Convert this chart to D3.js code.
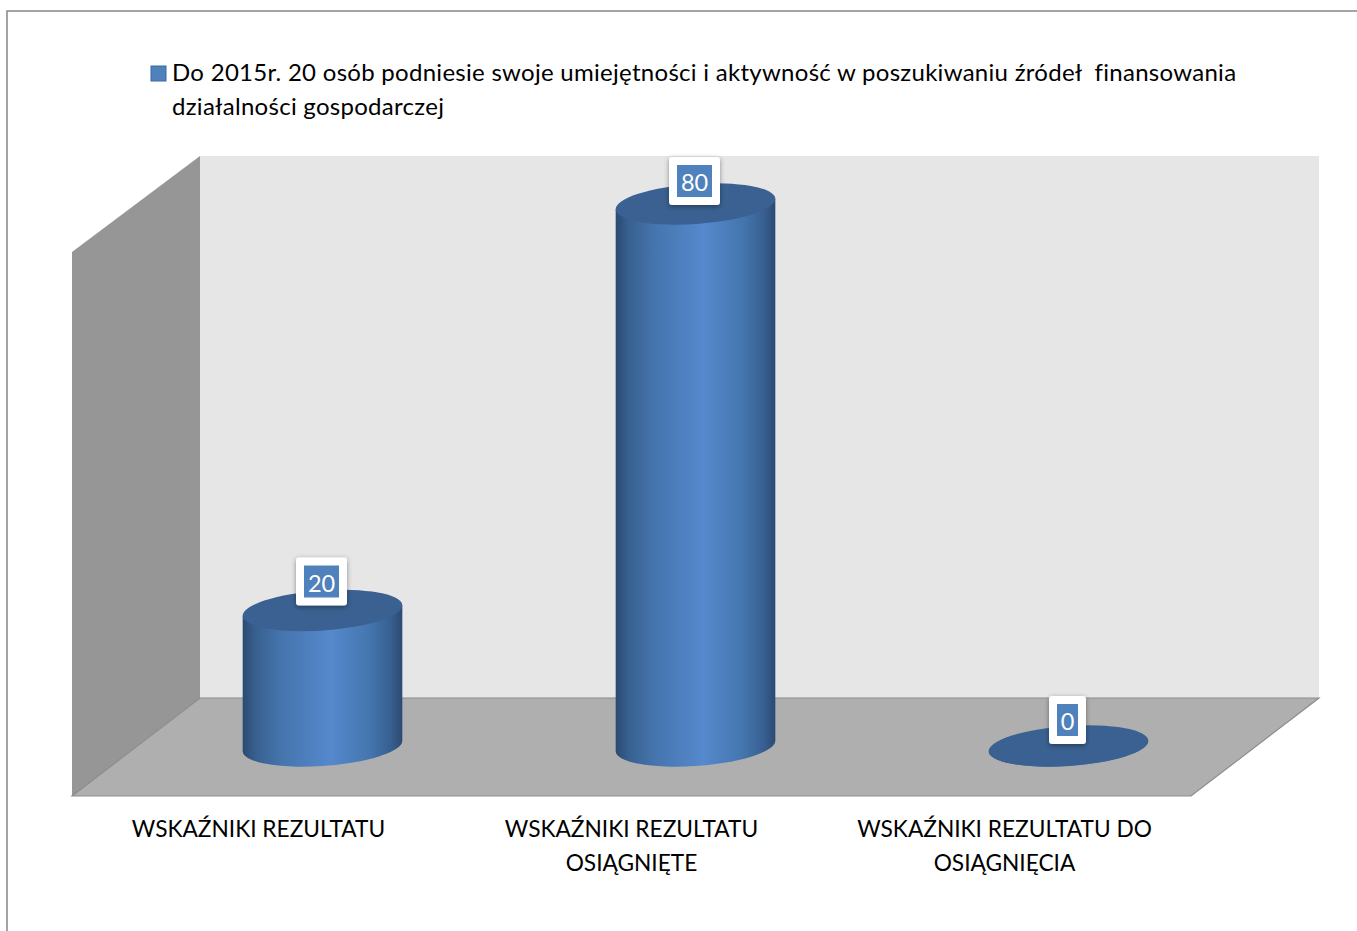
<!DOCTYPE html>
<html>
<head>
<meta charset="utf-8">
<script src="https://d3js.org/d3.v7.min.js"></script>
<style>
html, body { margin: 0; padding: 0; background: #fff; overflow: hidden; }
text { font-family: Lato, "Open Sans", sans-serif; }
</style>
</head>
<body>
<script>
var categories = ["WSKAŹNIKI REZULTATU", "WSKAŹNIKI REZULTATU OSIĄGNIĘTE", "WSKAŹNIKI REZULTATU DO OSIĄGNIĘCIA"];
var categoryLines = [["WSKAŹNIKI REZULTATU"], ["WSKAŹNIKI REZULTATU", "OSIĄGNIĘTE"], ["WSKAŹNIKI REZULTATU DO", "OSIĄGNIĘCIA"]];
var values = [20, 80, 0];
var legendLines = ["Do 2015r. 20 osób podniesie swoje umiejętności i aktywność w poszukiwaniu źródeł  finansowania", "działalności gospodarczej"];

var w = 1357;
var h = 931;
var depthX = 128, depthY = 98; // how far the floor runs forward
var rx = 80, ry = 20, tilt = -4;
var labelNudge = [-29, -23, -26];

var svg = d3.select("body").append("svg")
    .attr("width", w)
    .attr("height", h)
    .style("display", "block");

var defs = svg.append("defs");
var grad = defs.append("linearGradient").attr("id", "cyl");
[[0, "#2a4a72"], [0.08, "#37608f"], [0.25, "#4675ae"], [0.55, "#5589cd"], [0.8, "#4475ad"], [0.93, "#375f90"], [1, "#2a4a72"]]
  .forEach(function(s) {
    grad.append("stop").attr("offset", s[0]).attr("stop-color", s[1]);
  });
var shadow = defs.append("filter").attr("id", "shadow")
    .attr("x", "-30%").attr("y", "-30%").attr("width", "160%").attr("height", "160%");
shadow.append("feDropShadow")
    .attr("dx", 0).attr("dy", 1.5).attr("stdDeviation", 2.5)
    .attr("flood-color", "#000").attr("flood-opacity", 0.4);

// chart frame, runs off the right and bottom of the page
svg.append("rect")
    .attr("x", 7).attr("y", 11)
    .attr("width", w + 20).attr("height", h + 20)
    .attr("fill", "#fff")
    .attr("stroke", "#868686")
    .attr("stroke-width", 1.5);

var x = d3.scaleBand().domain(categories).range([72, 1191]);
var y = d3.scaleLinear().domain([0, 80]).range([698, 156]);

var left = x.range()[0], right = x.range()[1];
var line = d3.line();

// walls and floor
svg.append("path")
    .attr("d", line([[left + depthX, y(80)], [right + depthX, y(80)], [right + depthX, y(0)], [left + depthX, y(0)]]) + "Z")
    .attr("fill", "#e6e6e6");
svg.append("path")
    .attr("d", line([[left + depthX, y(80)], [left, y(80) + depthY - 2], [left, y(0) + depthY], [left + depthX, y(0)]]) + "Z")
    .attr("fill", "#969696");
svg.append("path")
    .attr("d", line([[left + depthX, y(0)], [right + depthX, y(0)], [right, y(0) + depthY], [left, y(0) + depthY]]) + "Z")
    .attr("fill", "#afafaf");
svg.append("path")
    .attr("d", line([[left + depthX, y(0)], [right + depthX, y(0)], [right, y(0) + depthY], [left, y(0) + depthY]]) + "Z")
    .attr("fill", "none")
    .attr("stroke", "#8c8c8c")
    .attr("stroke-width", 1.2);

function cx(i) { return x(categories[i]) + x.bandwidth() / 2 + depthX / 2; }
function cy(d) { return y(d) + depthY / 2 - 1; }

// point where the tilted ellipse has a vertical tangent, so the sides meet it smoothly
var th = tilt * Math.PI / 180;
var tt = Math.atan(-(ry / rx) * Math.tan(th));
var ex = rx * Math.cos(tt) * Math.cos(th) - ry * Math.sin(tt) * Math.sin(th);
var ey = rx * Math.cos(tt) * Math.sin(th) + ry * Math.sin(tt) * Math.cos(th);

// cylinder bodies
svg.selectAll("path.body")
    .data(values)
    .enter()
    .append("path")
    .attr("class", "body")
    .attr("fill", "url(#cyl)")
    .attr("d", function(d, i) {
      var c = cx(i), t = cy(d), b = cy(0);
      return "M" + (c - ex) + "," + (t - ey) +
        "L" + (c - ex) + "," + (b - ey) +
        "A" + rx + "," + ry + " " + tilt + " 0 0 " + (c + ex) + "," + (b + ey) +
        "L" + (c + ex) + "," + (t + ey) + "Z";
    });

// cylinder tops
svg.selectAll("ellipse.top")
    .data(values)
    .enter()
    .append("ellipse")
    .attr("class", "top")
    .attr("rx", rx)
    .attr("ry", ry)
    .attr("fill", "#3a6191")
    .attr("transform", function(d, i) {
      return "translate(" + cx(i) + "," + cy(d) + ") rotate(" + tilt + ")";
    });

// value labels
var labels = svg.selectAll("g.label")
    .data(values)
    .enter()
    .append("g")
    .attr("class", "label")
    .attr("transform", function(d, i) {
      return "translate(" + (cx(i) - 1) + "," + (cy(d) + labelNudge[i]) + ")";
    });

labels.append("rect")
    .attr("x", function(d) { return d < 10 ? -18.5 : -25.5; })
    .attr("y", -24)
    .attr("width", function(d) { return d < 10 ? 37 : 51; })
    .attr("height", 48)
    .attr("rx", 3)
    .attr("fill", "#fff")
    .attr("filter", "url(#shadow)");
labels.append("rect")
    .attr("x", function(d) { return d < 10 ? -10.5 : -17.5; })
    .attr("y", -16)
    .attr("width", function(d) { return d < 10 ? 21 : 35; })
    .attr("height", 32)
    .attr("fill", "#4f81bd");
labels.append("text")
    .text(function(d) { return d; })
    .attr("text-anchor", "middle")
    .attr("y", 10)
    .attr("fill", "#fff")
    .attr("font-size", 23.5);

// category labels
svg.selectAll("text.cat")
    .data(categories)
    .enter()
    .append("text")
    .attr("class", "cat")
    .attr("text-anchor", "middle")
    .attr("font-size", 22.7)
    .attr("fill", "#000")
    .each(function(d, i) {
      d3.select(this).selectAll("tspan")
        .data(categoryLines[i])
        .enter()
        .append("tspan")
        .attr("x", x(d) + x.bandwidth() / 2)
        .attr("y", function(l, j) { return 837 + j * 33.5; })
        .text(function(l) { return l; });
    });

// legend
svg.append("rect")
    .attr("x", 151).attr("y", 66)
    .attr("width", 15).attr("height", 15)
    .attr("fill", "#4f81bd")
    .attr("stroke", "#3f6a9e")
    .attr("stroke-width", 1);
svg.selectAll("text.legend")
    .data(legendLines)
    .enter()
    .append("text")
    .attr("class", "legend")
    .attr("x", 172)
    .attr("y", function(d, i) { return 81 + i * 33.5; })
    .attr("font-size", 24)
    .attr("letter-spacing", 0.28)
    .attr("fill", "#000")
    .attr("xml:space", "preserve")
    .text(function(d) { return d; });
</script>
</body>
</html>
